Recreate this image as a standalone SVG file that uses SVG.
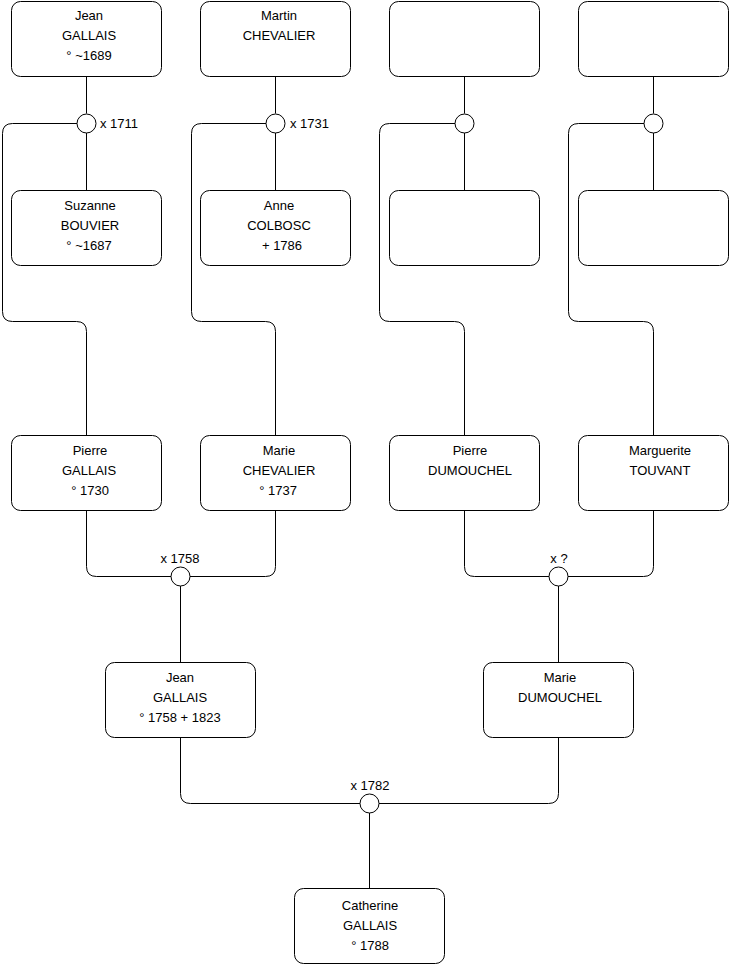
<svg xmlns="http://www.w3.org/2000/svg" width="740" height="975" viewBox="0 0 740 975">
<style>
.box{fill:#fff;stroke:#000;stroke-width:1}
.c{fill:#fff;stroke:#000;stroke-width:1}
.ln{fill:none;stroke:#000;stroke-width:1}
text{font-family:"Liberation Sans",Arial,sans-serif;font-size:13px;fill:#000}
.m{text-anchor:middle}
</style>
<rect width="740" height="975" fill="#fff"/>
<g id="connectors">
<path class="ln" d="M86.5 76.5V113.5M86.5 132.5V190.5"/>
<path class="ln" d="M275.5 76.5V113.5M275.5 132.5V190.5"/>
<path class="ln" d="M464.5 76.5V113.5M464.5 132.5V190.5"/>
<path class="ln" d="M653.5 76.5V113.5M653.5 132.5V190.5"/>
<path class="ln" d="M77 123.5H12.5Q2.5 123.5 2.5 133.5V311.5Q2.5 321.5 12.5 321.5H76.5Q86.5 321.5 86.5 331.5V435.5"/>
<path class="ln" d="M266 123.5H201.5Q191.5 123.5 191.5 133.5V311.5Q191.5 321.5 201.5 321.5H265.5Q275.5 321.5 275.5 331.5V435.5"/>
<path class="ln" d="M455 123.5H389.5Q379.5 123.5 379.5 133.5V311.5Q379.5 321.5 389.5 321.5H454.5Q464.5 321.5 464.5 331.5V435.5"/>
<path class="ln" d="M644 123.5H578.5Q568.5 123.5 568.5 133.5V311.5Q568.5 321.5 578.5 321.5H643.5Q653.5 321.5 653.5 331.5V435.5"/>
<path class="ln" d="M86.5 510.5V566.5Q86.5 576.5 96.5 576.5H171M275.5 510.5V566.5Q275.5 576.5 265.5 576.5H190"/>
<path class="ln" d="M464.5 510.5V566.5Q464.5 576.5 474.5 576.5H549M653.5 510.5V566.5Q653.5 576.5 643.5 576.5H568"/>
<path class="ln" d="M180.5 586V662.5M558.5 586V662.5"/>
<path class="ln" d="M180.5 737.5V793.5Q180.5 803.5 190.5 803.5H360M558.5 737.5V793.5Q558.5 803.5 548.5 803.5H379M369.5 813V888.5"/>
<circle class="c" cx="86.5" cy="123.5" r="9.5"/>
<circle class="c" cx="275.5" cy="123.5" r="9.5"/>
<circle class="c" cx="464.5" cy="123.5" r="9.5"/>
<circle class="c" cx="653.5" cy="123.5" r="9.5"/>
<circle class="c" cx="180.5" cy="576.5" r="9.5"/>
<circle class="c" cx="558.5" cy="576.5" r="9.5"/>
<circle class="c" cx="369.5" cy="803.5" r="9.5"/>
<text x="100" y="128">x 1711</text>
<text x="290" y="128">x 1731</text>
<text class="m" x="180" y="563">x 1758</text>
<text class="m" x="559" y="563">x ?</text>
<text class="m" x="370" y="790">x 1782</text>
</g>
<g id="jean-gallais-1689">
<rect class="box" x="11.5" y="1.5" width="150" height="75" rx="9"/>
<text class="m" x="89" y="20">Jean</text><text class="m" x="89" y="40">GALLAIS</text><text class="m" x="89" y="60">° ~1689</text>
</g>
<g id="martin-chevalier">
<rect class="box" x="200.5" y="1.5" width="150" height="75" rx="9"/>
<text class="m" x="279" y="20">Martin</text><text class="m" x="279" y="40">CHEVALIER</text>
</g>
<g id="empty-1"><rect class="box" x="389.5" y="1.5" width="150" height="75" rx="9"/></g>
<g id="empty-2"><rect class="box" x="578.5" y="1.5" width="150" height="75" rx="9"/></g>
<g id="suzanne-bouvier">
<rect class="box" x="11.5" y="190.5" width="150" height="75" rx="9"/>
<text class="m" x="90" y="210">Suzanne</text><text class="m" x="90" y="230">BOUVIER</text><text class="m" x="89" y="250">° ~1687</text>
</g>
<g id="anne-colbosc">
<rect class="box" x="200.5" y="190.5" width="150" height="75" rx="9"/>
<text class="m" x="279" y="210">Anne</text><text class="m" x="279" y="230">COLBOSC</text><text class="m" x="282" y="250">+ 1786</text>
</g>
<g id="empty-3"><rect class="box" x="389.5" y="190.5" width="150" height="75" rx="9"/></g>
<g id="empty-4"><rect class="box" x="578.5" y="190.5" width="150" height="75" rx="9"/></g>
<g id="pierre-gallais">
<rect class="box" x="11.5" y="435.5" width="150" height="75" rx="9"/>
<text class="m" x="90" y="455">Pierre</text><text class="m" x="89" y="475">GALLAIS</text><text class="m" x="90" y="495">° 1730</text>
</g>
<g id="marie-chevalier">
<rect class="box" x="200.5" y="435.5" width="150" height="75" rx="9"/>
<text class="m" x="279" y="455">Marie</text><text class="m" x="279" y="475">CHEVALIER</text><text class="m" x="278" y="495">° 1737</text>
</g>
<g id="pierre-dumouchel">
<rect class="box" x="389.5" y="435.5" width="150" height="75" rx="9"/>
<text class="m" x="470" y="455">Pierre</text><text class="m" x="470" y="475">DUMOUCHEL</text>
</g>
<g id="marguerite-touvant">
<rect class="box" x="578.5" y="435.5" width="150" height="75" rx="9"/>
<text class="m" x="660" y="455">Marguerite</text><text class="m" x="660" y="475">TOUVANT</text>
</g>
<g id="jean-gallais-1758">
<rect class="box" x="105.5" y="662.5" width="150" height="75" rx="9"/>
<text class="m" x="180" y="682">Jean</text><text class="m" x="180" y="702">GALLAIS</text><text class="m" x="180" y="722">° 1758 + 1823</text>
</g>
<g id="marie-dumouchel">
<rect class="box" x="483.5" y="662.5" width="150" height="75" rx="9"/>
<text class="m" x="560" y="682">Marie</text><text class="m" x="560" y="702">DUMOUCHEL</text>
</g>
<g id="catherine-gallais">
<rect class="box" x="294.5" y="888.5" width="150" height="75" rx="9"/>
<text class="m" x="370" y="910">Catherine</text><text class="m" x="370" y="930">GALLAIS</text><text class="m" x="370" y="950">° 1788</text>
</g>
</svg>
